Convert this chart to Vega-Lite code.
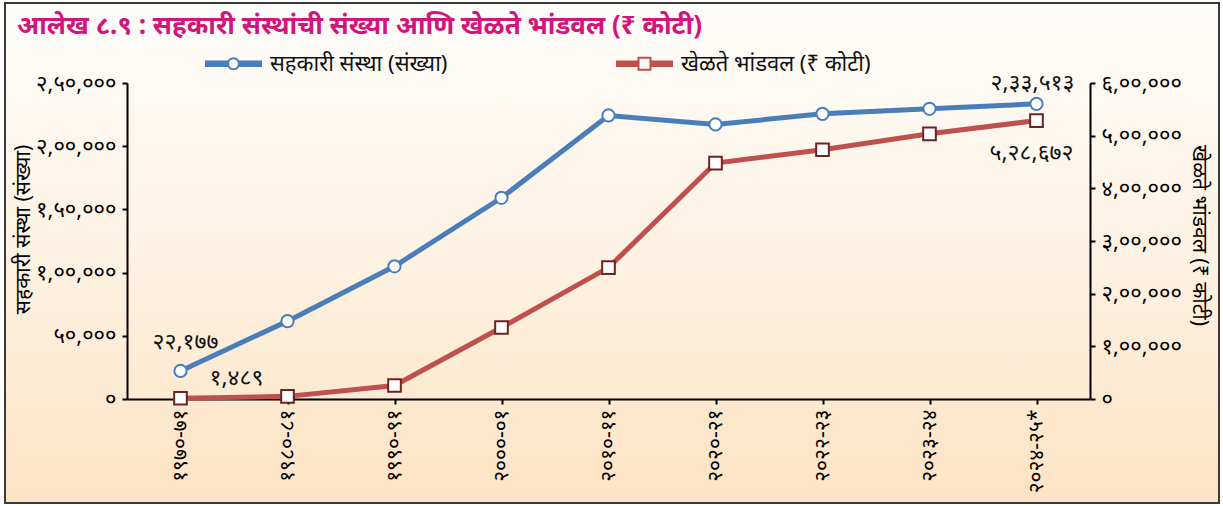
{
  "$schema": "https://vega.github.io/schema/vega-lite/v6.json",
  "width": 1214,
  "height": 500,
  "autosize": "none",
  "padding": {"left": 5, "right": 4, "top": 3, "bottom": 3},
  "background": "#ffffff",
  "config": {
    "font": "Noto Sans",
    "view": {
      "fill": {"gradient": "linear", "x1": 0, "y1": 0, "x2": 0, "y2": 1, "stops": [{"offset": 0, "color": "#fefdfa"}, {"offset": 0.5, "color": "#fdf2e3"}, {"offset": 1, "color": "#fde3c4"}]},
      "stroke": "#3a3a3a",
      "strokeWidth": 2
    },
    "axis": {"domainColor": "#000000", "domainWidth": 2, "tickColor": "#000000", "tickWidth": 2, "tickSize": 5, "grid": false, "labelColor": "#000000", "labelFontSize": 22, "titleColor": "#000000", "titleFontSize": 21, "titleFontWeight": "normal"}
  },
  "title": {
    "text": "आलेख ८.९ : सहकारी संस्थांची संख्या आणि खेळते भांडवल (₹ कोटी)",
    "anchor": "start",
    "frame": "group",
    "dx": 12,
    "offset": -36,
    "color": "#d4147c",
    "fontSize": 26,
    "fontWeight": "bold"
  },
  "data": {
    "values": [
      {"year": "१९७०-७१", "societies": 22177, "capital": 1489, "societies_label": "२२,१७७", "capital_label": "१,४८९"},
      {"year": "१९८०-८१", "societies": 61600, "capital": 5000},
      {"year": "१९९०-९१", "societies": 105000, "capital": 25600},
      {"year": "२०००-०१", "societies": 159200, "capital": 135800},
      {"year": "२०१०-११", "societies": 224300, "capital": 249500},
      {"year": "२०२०-२१", "societies": 217200, "capital": 448000},
      {"year": "२०२२-२३", "societies": 225600, "capital": 473300},
      {"year": "२०२३-२४", "societies": 229600, "capital": 503500},
      {"year": "२०२४-२५*", "societies": 233513, "capital": 528672, "societies_label": "२,३३,५१३", "capital_label": "५,२८,६७२"}
    ]
  },
  "encoding": {
    "x": {
      "field": "year",
      "type": "ordinal",
      "sort": null,
      "scale": {"type": "point", "range": [122, 1085], "padding": 0.5},
      "axis": {"title": null, "labelAngle": -90, "offset": -104, "labelPadding": 5, "labelFontSize": 21}
    }
  },
  "layer": [
    {
      "encoding": {
        "y": {
          "field": "societies",
          "type": "quantitative",
          "scale": {"domain": [0, 250000], "range": [396, 80], "nice": false, "zero": true},
          "axis": {
            "orient": "left",
            "offset": -122,
            "values": [0, 50000, 100000, 150000, 200000, 250000],
            "labelExpr": "['०','५०,०००','१,००,०००','१,५०,०००','२,००,०००','२,५०,०००'][round(datum.value/50000)]",
            "labelPadding": 6,
            "title": "सहकारी संस्था (संख्या)",
            "titleX": -104,
            "titleY": 226,
            "titleAlign": "center",
            "titleBaseline": "middle",
            "titleAngle": -90
          }
        }
      },
      "layer": [
        {
          "mark": {"type": "line", "strokeWidth": 5},
          "encoding": {
            "color": {
              "datum": "सहकारी संस्था (संख्या)",
              "type": "nominal",
              "scale": {"domain": ["सहकारी संस्था (संख्या)", "खेळते भांडवल (₹ कोटी)"], "range": ["#4a7ebb", "#c0504d"]},
              "legend": {
                "title": null,
                "orient": "none",
                "direction": "horizontal",
                "legendX": 200,
                "legendY": 32,
                "padding": 0,
                "columnPadding": 168,
                "labelOffset": 8,
                "labelFontSize": 22,
                "labelColor": "#111111",
                "labelLimit": 400,
                "symbolSize": 3249,
                "encode": {
                  "symbols": {
                    "update": {
                      "shape": {"signal": "datum.value === 'सहकारी संस्था (संख्या)' ? 'M-1,-0.11H-0.19V0.11H-1Z M0.19,-0.11H1V0.11H0.19Z M-0.228,0A0.228,0.228 0 1,1 0.228,0A0.228,0.228 0 1,1 -0.228,0Z M-0.158,0A0.158,0.158 0 1,0 0.158,0A0.158,0.158 0 1,0 -0.158,0Z' : 'M-1,-0.11H-0.2V0.11H-1Z M0.2,-0.11H1V0.11H0.2Z M-0.246,-0.246H0.246V0.246H-0.246Z M-0.175,-0.175V0.175H0.175V-0.175Z'"},
                      "fill": {"scale": "color", "field": "value"},
                      "stroke": {"value": "transparent"},
                      "strokeWidth": {"value": 0},
                      "opacity": {"value": 1}
                    }
                  }
                }
              }
            }
          }
        },
        {
          "mark": {"type": "point", "shape": "circle", "size": 150, "filled": true, "fill": "#ffffff", "stroke": "#4a7ebb", "strokeWidth": 2, "opacity": 1}
        },
        {
          "transform": [{"filter": "datum.year === '१९७०-७१'"}],
          "mark": {"type": "text", "dx": 5, "dy": -29, "fontSize": 23, "color": "#111111"},
          "encoding": {"text": {"field": "societies_label"}}
        },
        {
          "transform": [{"filter": "datum.year === '२०२४-२५*'"}],
          "mark": {"type": "text", "dx": -4, "dy": -21, "fontSize": 23, "color": "#111111"},
          "encoding": {"text": {"field": "societies_label"}}
        }
      ]
    },
    {
      "encoding": {
        "y": {
          "field": "capital",
          "type": "quantitative",
          "scale": {"domain": [0, 600000], "range": [396, 80], "nice": false, "zero": true},
          "axis": {
            "orient": "right",
            "offset": -129,
            "values": [0, 100000, 200000, 300000, 400000, 500000, 600000],
            "labelExpr": "['०','१,००,०००','२,००,०००','३,००,०००','४,००,०००','५,००,०००','६,००,०००'][round(datum.value/100000)]",
            "labelPadding": 6,
            "title": "खेळते भांडवल (₹ कोटी)",
            "titleX": 108,
            "titleY": 232,
            "titleAlign": "center",
            "titleBaseline": "middle",
            "titleAngle": 90
          }
        }
      },
      "layer": [
        {
          "mark": {"type": "line", "strokeWidth": 5},
          "encoding": {"color": {"datum": "खेळते भांडवल (₹ कोटी)", "type": "nominal"}}
        },
        {
          "mark": {"type": "point", "shape": "square", "size": 160, "filled": true, "fill": "#ffffff", "stroke": "#6e2323", "strokeWidth": 2, "opacity": 1}
        },
        {
          "transform": [{"filter": "datum.year === '१९७०-७१'"}],
          "mark": {"type": "text", "dx": 56, "dy": -20, "fontSize": 23, "color": "#111111"},
          "encoding": {"text": {"field": "capital_label"}}
        },
        {
          "transform": [{"filter": "datum.year === '२०२४-२५*'"}],
          "mark": {"type": "text", "dx": -5, "dy": 32, "fontSize": 23, "color": "#111111"},
          "encoding": {"text": {"field": "capital_label"}}
        }
      ]
    }
  ],
  "resolve": {"scale": {"y": "independent"}}
}
